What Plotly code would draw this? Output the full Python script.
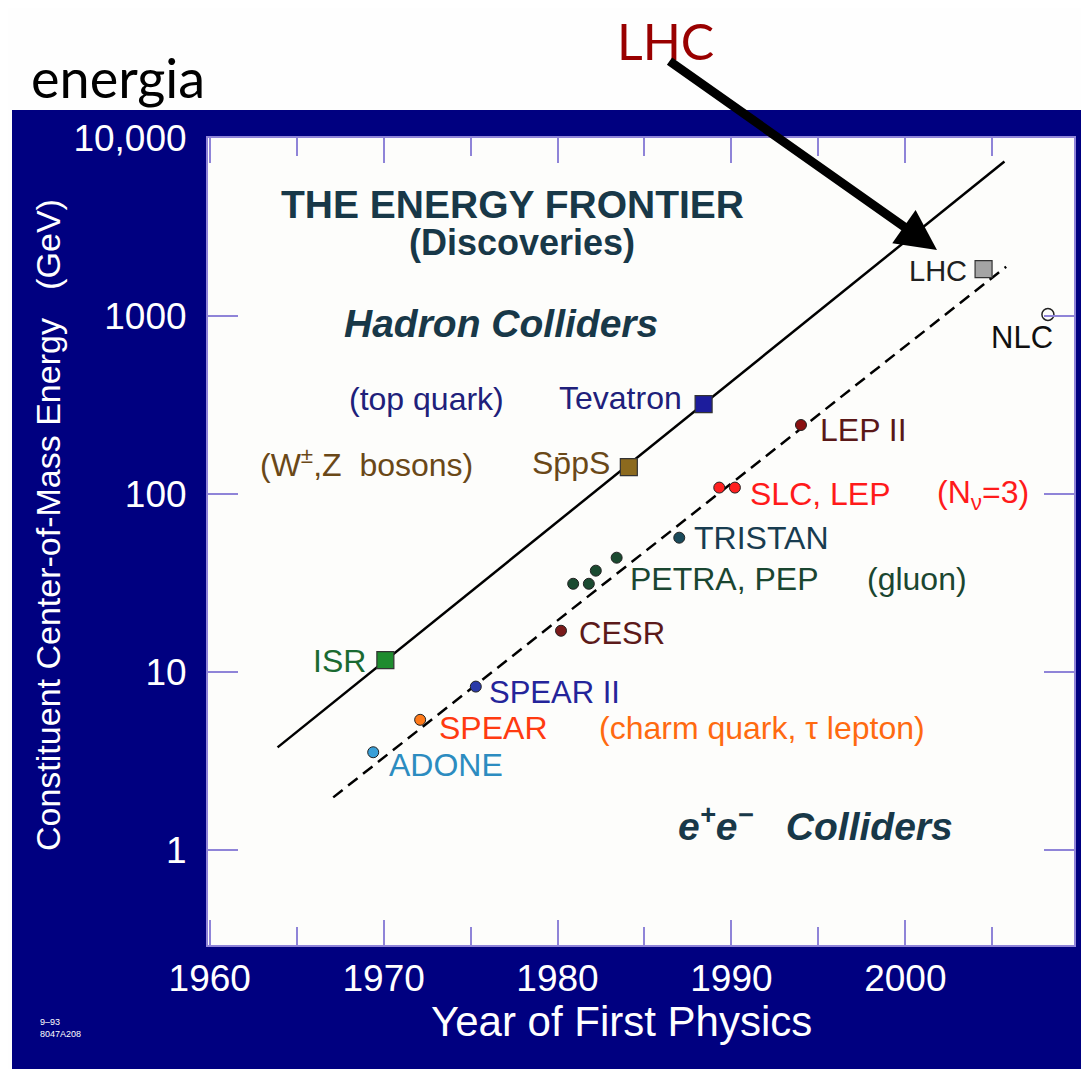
import math
import plotly.graph_objects as go

# hadron colliders (squares)
hadron_names = ["ISR", "SppS", "Tevatron", "LHC"]
hadron_year = [1970.1, 1984.1, 1988.4, 2004.5]
hadron_gev = [11.7, 142, 321, 1840]
hadron_color = ["#1e8c2e", "#8c6a1e", "#1c1c9c", "#a4a4a4"]

# e+e- colliders (dots)
lepton_names = ["ADONE", "SPEAR", "SPEAR II", "CESR", "PETRA", "PEP", "PETRA", "PETRA",
                "TRISTAN", "SLC", "LEP", "LEP II"]
lepton_year = [1969.4, 1972.1, 1975.3, 1980.2, 1980.9, 1981.8, 1982.2, 1983.4,
               1987.0, 1989.3, 1990.2, 1994.0]
lepton_gev = [3.55, 5.4, 8.3, 17.1, 31.4, 31.4, 37.2, 44, 57, 109, 109, 245]
lepton_color = ["#3aa0d8", "#ff7a1a", "#2a3aa8", "#7a1a1a", "#1a4a30", "#1a4a30", "#1a4a30",
                "#1a4a30", "#1a4a5a", "#ff2020", "#ff2020", "#8a1010"]

# future linear collider
nlc_year = [2008.2]
nlc_gev = [1025]

# trend lines
hadron_line_year = [1963.9, 2005.7]
hadron_line_gev = [3.78, 7410]
lepton_line_year = [1967.1, 2005.8]
lepton_line_gev = [1.98, 1900]

y_ticks = [1, 10, 100, 1000, 10000]
y_ticktext = ["1", "10", "100", "1000", "10,000"]

# page has an 8px body margin, so the figure is drawn 8px smaller and shifted
OFF = 8
W, H = 1089 - OFF, 1069 - OFF
L, R, T, B = 208 - OFF, 15, 138 - OFF, 124
PW, PH = W - L - R, H - T - B

NAVY = "#000080"
TICK = "#8f84d8"
FONT = "Liberation Sans, Arial, sans-serif"
HAND = "Comic Sans MS, Lato, sans-serif"


def P(px, py):
    """position on the page (screenshot pixels) -> paper coords"""
    return (px - OFF - L) / PW, (T + PH - (py - OFF)) / PH


def note(text, px, py, size, color, xanchor="center", family=FONT, **kw):
    x, y = P(px, py)
    fig.add_annotation(x=x, y=y, xref="paper", yref="paper", text=text, showarrow=False,
                       xanchor=xanchor, yanchor="middle",
                       font=dict(family=family, size=size, color=color), **kw)


fig = go.Figure()

fig.add_trace(go.Scatter(x=hadron_line_year, y=hadron_line_gev, mode="lines",
                         line=dict(color="black", width=2.5), hoverinfo="skip"))
fig.add_trace(go.Scatter(x=lepton_line_year, y=lepton_line_gev, mode="lines",
                         line=dict(color="black", width=2.5, dash="12px,7px"), hoverinfo="skip"))
fig.add_trace(go.Scatter(x=hadron_year, y=hadron_gev, mode="markers", text=hadron_names,
                         marker=dict(symbol="square", size=17, color=hadron_color,
                                     line=dict(color="#333333", width=1.2))))
fig.add_trace(go.Scatter(x=lepton_year, y=lepton_gev, mode="markers", text=lepton_names,
                         marker=dict(symbol="circle", size=11, color=lepton_color,
                                     line=dict(color="#222222", width=1))))
fig.add_trace(go.Scatter(x=nlc_year, y=nlc_gev, mode="markers", text=["NLC"],
                         marker=dict(symbol="circle-open", size=12, color="#222222",
                                     line=dict(width=1.5))))

# navy frame + light plot area
x0, y1 = P(12, 110)
x1, y0 = P(1100, 1080)
fig.add_shape(type="rect", xref="paper", yref="paper", x0=x0, x1=x1, y0=y0, y1=y1,
              fillcolor=NAVY, line=dict(width=0), layer="below")
fig.add_shape(type="rect", xref="paper", yref="paper", x0=0, x1=1, y0=0, y1=1,
              fillcolor="#fdfdfb", line=dict(width=0), layer="below")

labels = [
    # text, px, py, anchor, color, size
    ("<b>THE ENERGY FRONTIER</b>", 512, 204, "center", "#183848", 39),
    ("<b>(Discoveries)</b>", 522, 242, "center", "#183848", 36),
    ("<b><i>Hadron Colliders</i></b>", 501, 323, "center", "#183848", 39),
    ("(top quark)", 426, 399, "center", "#20207a", 32),
    ("Tevatron", 684, 398, "right", "#20207a", 32),
    ("(W<sup>±</sup>,Z\u00a0\u00a0bosons)", 366, 463, "center", "#6a4818", 32),
    ("Sp\u0304pS", 612, 463, "right", "#6a4818", 32),
    ("LEP II", 818, 430, "left", "#5a1818", 32),
    ("SLC, LEP", 748, 494, "left", "#ff1a1a", 32),
    ("(N<sub>ν</sub>=3)", 935, 494, "left", "#ff1a1a", 32),
    ("TRISTAN", 692, 538, "left", "#183c50", 32),
    ("PETRA, PEP", 628, 579, "left", "#1a4630", 32),
    ("(gluon)", 865, 579, "left", "#1a4630", 32),
    ("CESR", 577, 633, "left", "#5c1a1a", 31),
    ("ISR", 368, 661, "right", "#1a6a30", 32),
    ("SPEAR II", 487, 692, "left", "#24249a", 31),
    ("SPEAR", 437, 728, "left", "#ff3a10", 32),
    ("(charm quark, τ lepton)", 597, 728, "left", "#ff6a10", 32),
    ("ADONE", 387, 765, "left", "#2c8cc0", 32),
    ("LHC", 969, 271, "right", "#202020", 29),
    ("NLC", 989, 337, "left", "#101010", 31),
    ("<b><i>e<sup>+</sup>e<sup>−</sup>\u00a0\u00a0\u00a0Colliders</i></b>", 815, 823, "center", "#183848", 39),
]
for text, px, py, anchor, color, size in labels:
    note(text, px, py, size, color, xanchor=anchor)

# axis titles and corner code
note("Constituent Center-of-Mass Energy\u00a0\u00a0\u00a0(GeV)", 48, 525, 34, "white", textangle=-90)
note("Year of First Physics", 621, 1021, 42, "white")
note("9\u201393<br>8047A208", 38, 1028, 9, "white", xanchor="left", align="left")

# handwritten notes on top
note("energia", 118, 78, 54, "black", family=HAND)
note("LHC", 665, 41, 50, "#990000", family=HAND)
tx, ty = P(937, 250)
fig.add_annotation(x=tx, y=ty, xref="paper", yref="paper", text="", showarrow=True,
                   ax=668 - 937, ay=60 - 250, arrowhead=2, arrowsize=0.9, arrowwidth=9,
                   arrowcolor="black", standoff=0)

fig.update_xaxes(range=[1959.9, 2009.7], tick0=1960, dtick=10, ticks="inside", ticklen=25,
                 tickwidth=2, tickcolor=TICK, showgrid=False, zeroline=False,
                 showline=True, linecolor=TICK, linewidth=2, mirror="ticks",
                 minor=dict(dtick=5, tick0=1960, ticks="inside", ticklen=18, tickwidth=2,
                            tickcolor=TICK, showgrid=False),
                 tickfont=dict(family=FONT, size=37, color="white"), ticklabelstandoff=0)
fig.update_yaxes(type="log", range=[-0.533, 4.002], tickvals=y_ticks, ticktext=y_ticktext,
                 ticks="inside", ticklen=30, tickwidth=2, tickcolor=TICK, showgrid=False,
                 zeroline=False, showline=True, linecolor=TICK, linewidth=2, mirror="ticks",
                 tickfont=dict(family=FONT, size=37, color="white"), ticklabelstandoff=12)

fig.update_layout(width=W, height=H, margin=dict(l=L, r=R, t=T, b=B, pad=0),
                  paper_bgcolor="#fefefe", plot_bgcolor="#fdfdfb", showlegend=False)

fig.write_html("out.html")
